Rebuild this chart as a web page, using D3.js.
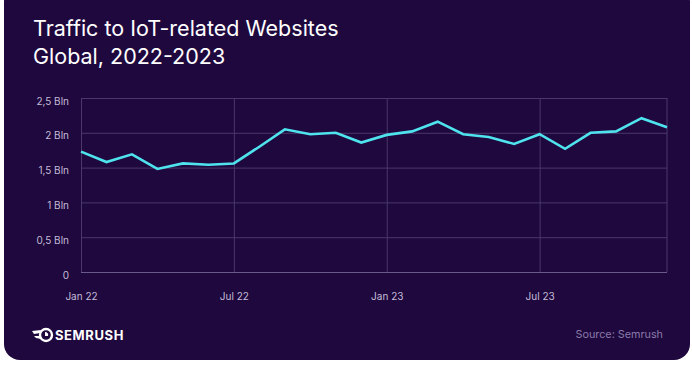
<!DOCTYPE html>
<html>
<head>
<meta charset="utf-8">
<script src="https://cdn.jsdelivr.net/npm/d3@7"></script>
<style>
  html, body { margin: 0; padding: 0; background: #ffffff; }
  svg { display: block; }
</style>
</head>
<body>
<svg id="chart" width="692" height="366"></svg>
<script>
// ---- data ----
const months = ["Jan 22","Feb 22","Mar 22","Apr 22","May 22","Jun 22","Jul 22","Aug 22","Sep 22","Oct 22","Nov 22","Dec 22",
                "Jan 23","Feb 23","Mar 23","Apr 23","May 23","Jun 23","Jul 23","Aug 23","Sep 23","Oct 23","Nov 23","Dec 23"];
const traffic = [1.73,1.58,1.69,1.48,1.56,1.54,1.56,1.80,2.05,1.98,2.00,1.86,
                 1.97,2.02,2.16,1.98,1.94,1.84,1.98,1.77,2.00,2.02,2.21,2.08];
const yTicks = [0, 0.5, 1, 1.5, 2, 2.5];
const yTickLabels = ["0", "0,5 Bln", "1 Bln", "1,5 Bln", "2 Bln", "2,5 Bln"];
const xTickLabels = ["Jan 22", "Jul 22", "Jan 23", "Jul 23"];

(function () {
const svg = d3.select("#chart");
const BG = "#1e083e";
const FONT = "Inter, 'Open Sans', sans-serif";

// card
svg.append("rect").attr("x", 4).attr("y", -14).attr("width", 686).attr("height", 374)
  .attr("rx", 16).attr("fill", BG);

// title
const title = svg.append("text")
  .attr("fill", "#ffffff").attr("font-family", FONT)
  .attr("font-size", 21.5).attr("font-weight", 400);
title.append("tspan").attr("x", 33).attr("y", 36).text("Traffic to IoT-related Websites");
title.append("tspan").attr("x", 33).attr("y", 64).text("Global, 2022-2023");

// scales
const pL = 81, pR = 667, pT = 98, pB = 272;
const x = d3.scaleLinear().domain([0, months.length - 1]).range([pL, pR]);
const y = d3.scaleLinear().domain([0, 2.5]).range([pB, pT]);

const gridColor = "#4a3868";

// horizontal grid
const yAxis = d3.axisLeft(y).tickValues(yTicks)
  .tickFormat((d, i) => yTickLabels[i]).tickSize(-(pR - pL)).tickPadding(12);
const gy = svg.append("g").attr("transform", `translate(${pL},0)`).call(yAxis);
gy.select(".domain").remove();
gy.selectAll(".tick line").attr("stroke", (d) => d === 0 ? "#6a5a8a" : gridColor).attr("stroke-width", 1);
gy.selectAll(".tick text").attr("fill", "#c4bcd6")
  .attr("font-family", FONT).attr("font-size", 10)
  .attr("dy", "0.6em");

// vertical grid + x labels
const xTickIdx = xTickLabels.map(l => months.indexOf(l));
const xAxis = d3.axisBottom(x).tickValues(xTickIdx)
  .tickFormat((d) => months[d]).tickSize(-(pB - pT)).tickPadding(21);
const gx = svg.append("g").attr("transform", `translate(0,${pB})`).call(xAxis);
gx.select(".domain").remove();
gx.selectAll(".tick line").attr("stroke", gridColor).attr("stroke-width", 1);
gx.selectAll(".tick text").attr("fill", "#c4bcd6")
  .attr("font-family", FONT).attr("font-size", 10);

// right border
svg.append("line").attr("x1", x(months.length - 1)).attr("x2", x(months.length - 1))
  .attr("y1", y(2.5)).attr("y2", y(0)).attr("stroke", gridColor);

// line
const line = d3.line().x((d, i) => x(i)).y(d => y(d));
svg.append("path").datum(traffic).attr("d", line)
  .attr("fill", "none").attr("stroke", "#4fe3ee").attr("stroke-width", 2.6)
  .attr("stroke-linejoin", "miter").attr("stroke-linecap", "butt");

// logo
const logo = svg.append("g").attr("transform", "translate(32,335)");
logo.append("circle").attr("cx", 14).attr("cy", 0).attr("r", 6).attr("fill", "none")
  .attr("stroke", "#ffffff").attr("stroke-width", 2.4);
logo.append("path").attr("d", "M0,-4 L9,-5 L8,-2 L2,-1 Z M2,1 L8,1 L9,4 L4,3 Z").attr("fill", "#ffffff");
logo.append("path").attr("d", "M13,-3 A3,3 0 0 1 16,1 L13,1 Z").attr("fill", "#ffffff");
svg.append("text").attr("x", 55).attr("y", 339.5).text("SEMRUSH")
  .attr("fill", "#ffffff").attr("font-family", FONT)
  .attr("font-size", 13).attr("font-weight", 700).attr("letter-spacing", 0.6);

// source
svg.append("text").attr("x", 663).attr("y", 338).attr("text-anchor", "end")
  .text("Source: Semrush").attr("fill", "#8a7aaa")
  .attr("font-family", FONT).attr("font-size", 10.8);
})();
</script>
</body>
</html>
